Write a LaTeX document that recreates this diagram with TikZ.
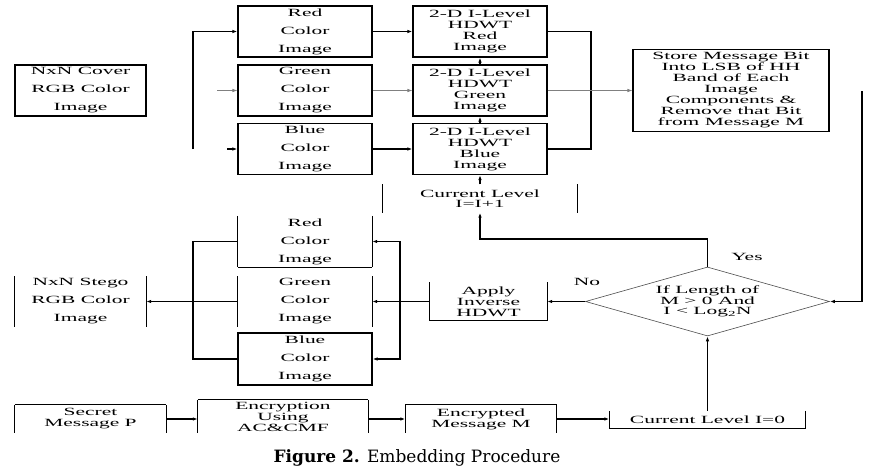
\documentclass[tikz,border=0pt]{standalone}
\usepackage{fontspec}
\usetikzlibrary{arrows.meta,shapes.geometric}
\newfontfamily\boxfont{Liberation Serif}[FakeStretch=1.95]
\newfontfamily\capfont{DejaVu Serif}

\begin{document}
\begin{tikzpicture}[x=1pt,y=-1pt,>={Latex[length=5pt,width=3.5pt]}]
        \tikzset{rim/.style={draw,line width=1.1pt},
            wire/.style={line width=1.1pt},
            faint/.style={draw=gray,line width=0.6pt},
            plain/.style={align=center,inner sep=0pt,font=\boxfont\fontsize{11}{#1}\selectfont},
            plain/.default=11,
            box/.style={rim,plain=#1},
            box/.default=11,
            sides/.style={append after command={(\tikzlastnode.north west) edge[rim] (\tikzlastnode.south west)
                (\tikzlastnode.north east) edge[rim] (\tikzlastnode.south east)}},
            floor/.style={append after command={(\tikzlastnode.south west) edge[rim] (\tikzlastnode.south east)}},
            roof/.style={append after command={(\tikzlastnode.north west) edge[rim] (\tikzlastnode.north east)}},
            decision/.style={diamond,draw=gray!60!black,line width=0.6pt,aspect=3.5,inner sep=0pt,
                minimum width=244pt,minimum height=69pt,plain=10}}
        \useasboundingbox (0,0) rectangle (871,466);

        % cover image and its colour planes
        \node[box=18,minimum width=131pt,minimum height=51pt] (cover) at (80.5,90.5) {NxN Cover\\RGB Color\\Image};
        \node[box=18,minimum width=134pt,minimum height=51pt] (rtop) at (305,31.5) {Red\\Color\\Image};
        \node[box=18,minimum width=134pt,minimum height=51pt] (gtop) at (305,90.5) {Green\\Color\\Image};
        \node[box=18,minimum width=134pt,minimum height=51pt] (btop) at (305,149) {Blue\\Color\\Image};
        \node[box,minimum width=134pt,minimum height=51pt] (rhdwt) at (480,31.5) {2-D I-Level\\HDWT\\Red\\Image};
        \node[box,minimum width=134pt,minimum height=51pt] (ghdwt) at (480,90.5) {2-D I-Level\\HDWT\\Green\\Image};
        \node[box,minimum width=134pt,minimum height=51pt] (bhdwt) at (480,149) {2-D I-Level\\HDWT\\Blue\\Image};
        \node[box,minimum width=196pt,minimum height=82pt] (store) at (731,90.5)
            {Store Message Bit\\Into LSB of HH\\Band of Each\\Image\\Components \&\\Remove that Bit\\from Message M};
        \node[plain=10.5,sides,minimum width=194pt,minimum height=28pt] (cur1) at (480,198.5) {Current Level\\I=I+1};

        % decision and inverse transform
        \node[decision] (test) at (707.5,301.5) {If Length of\\M > 0 And\\I < Log\textsubscript{2}N};
        \node[plain] (yes) at (747,257) {Yes};
        \node[plain] (no) at (587,282) {No};
        \node[plain,sides,floor,minimum width=117pt,minimum height=38pt] (apply) at (488.5,301.5) {Apply\\Inverse\\HDWT};
        \node[plain=18,sides,floor,minimum width=134pt,minimum height=51pt] (rlow) at (305,241.5) {Red\\Color\\Image};
        \node[plain=18,sides,minimum width=134pt,minimum height=50pt] (glow) at (305,301.5) {Green\\Color\\Image};
        \node[box=18,minimum width=134pt,minimum height=52pt] (blow) at (305,359) {Blue\\Color\\Image};
        \node[plain=18,sides,minimum width=131pt,minimum height=50pt] (stego) at (80.5,301.5) {NxN Stego\\RGB Color\\Image};

        % message chain
        \node[plain,sides,roof,minimum width=151pt,minimum height=28pt] (secret) at (90.5,419) {Secret\\Message P};
        \node[plain,sides,roof,minimum width=170pt,minimum height=33pt] (encr) at (283,416.5) {Encryption\\Using\\AC\&CMF};
        \node[plain,sides,roof,minimum width=151pt,minimum height=28pt] (encm) at (481,419) {Encrypted\\Message M};
        \node[plain,sides,floor,minimum width=196pt,minimum height=17pt] (cur0) at (707.5,419.5) {Current Level I=0};

        \coordinate (fanA) at (193,149);
        \coordinate (fanG) at (217,90.5);
        \coordinate (fanB) at (227,149);
        \coordinate (joinR) at (591,90.5);
        \coordinate (loopR) at (862,91);
        \coordinate (yesK) at (480,239);
        \coordinate (joinL) at (400,301.5);
        \coordinate (fanL) at (193,301.5);

        \draw[wire,->] (fanA) |- (rtop);
        \draw[faint,->] (fanG) -- (gtop);
        \draw[wire,->] (fanB) -- (btop);
        \draw[wire,->] (rtop) -- (rhdwt);
        \draw[faint,->] (gtop) -- (ghdwt);
        \draw[wire,->] (btop) -- (bhdwt);
        \draw[wire,->] (bhdwt) -- (ghdwt);
        \draw[wire,->] (ghdwt) -- (rhdwt);
        \draw[wire,->] (cur1) -- (bhdwt);
        \draw[wire] (rhdwt) -| (joinR) |- (bhdwt);
        \draw[faint,->] (ghdwt) -- (store);
        \draw[wire,->] (loopR) |- (test);
        \draw[wire,->] (test.north) |- (yesK) -- (cur1);
        \draw[wire,->] (test) -- (apply);
        \draw[wire] (apply) -- (joinL);
        \draw[wire,->] (joinL) |- (rlow);
        \draw[wire,->] (joinL) -- (glow);
        \draw[wire,->] (joinL) |- (blow);
        \draw[wire] (rlow) -| (fanL) |- (blow);
        \draw[wire] (glow) -- (fanL);
        \draw[wire,->] (fanL) -- (stego);
        \draw[wire,->] (secret) -- (secret -| encr.west);
        \draw[wire,->] (encr.east |- encm) -- (encm);
        \draw[wire,->] (encm) -- (encm -| cur0.west);
        \draw[wire,->] (cur0) -- (test);

        \node[anchor=base,font=\capfont\fontsize{17}{20}\selectfont] (caption) at (417,462)
            {\textbf{Figure 2.} Embedding Procedure};
    \end{tikzpicture}
\end{document}
